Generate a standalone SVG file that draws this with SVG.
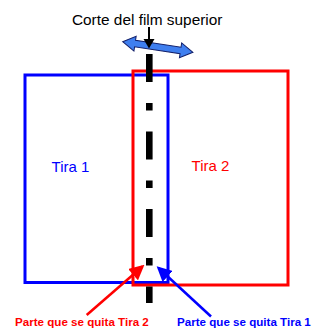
<svg xmlns="http://www.w3.org/2000/svg" width="323" height="329" viewBox="0 0 323 329">
<style>
.lbl{font-family:"Liberation Sans",Arial,sans-serif;}
.small{font-size:11.6px;font-weight:bold;}
</style>
<defs>
<marker id="hr" markerWidth="6" markerHeight="6" refX="5" refY="3" orient="auto" markerUnits="strokeWidth">
<path d="M0,0 L6,3 L0,6 Z" fill="#ff0000"/>
</marker>
<marker id="hb" markerWidth="6" markerHeight="6" refX="5" refY="3" orient="auto" markerUnits="strokeWidth">
<path d="M0,0 L6,3 L0,6 Z" fill="#0000ff"/>
</marker>
</defs>
<rect width="323" height="329" fill="#ffffff"/>
<g id="tira1">
<rect x="25" y="75" width="143" height="207.5" fill="none" stroke="#0000ff" stroke-width="3"/>
<text class="lbl" x="70.5" y="171.5" font-size="15" fill="#0000ff" text-anchor="middle">Tira 1</text>
</g>
<g id="tira2">
<rect x="133" y="71" width="155" height="214" fill="none" stroke="#ff0000" stroke-width="3"/>
<text class="lbl" x="210.5" y="171" font-size="15" fill="#ff0000" text-anchor="middle">Tira 2</text>
</g>
<g id="corte">
<line x1="149.3" y1="54" x2="149.3" y2="303" stroke="#000000" stroke-width="6.6" stroke-dasharray="28 21 7.5 21"/>
</g>
<g id="desplazamiento">
<polygon transform="translate(157.8,47) rotate(8.5)" points="-35.5,0 -23,-7.5 -23,-3.3 23,-3.3 23,-7.5 35.5,0 23,7.5 23,3.3 -23,3.3 -23,7.5" fill="#3f7fef" stroke="#13206a" stroke-width="1"/>
</g>
<g id="titulo">
<text class="lbl" x="147.2" y="25" font-size="15.4" fill="#000000" text-anchor="middle">Corte del film superior</text>
<line x1="149" y1="27" x2="149" y2="40" stroke="#000000" stroke-width="2"/>
<polygon points="143.5,39 154.5,39 149,48.5" fill="#000000"/>
</g>
<g id="connectors">
<line x1="86.7" y1="315" x2="142.5" y2="266.5" stroke="#ff0000" stroke-width="2.5" marker-end="url(#hr)"/>
<line x1="211" y1="316.5" x2="158.5" y2="268" stroke="#0000ff" stroke-width="2.5" marker-end="url(#hb)"/>
</g>
<g id="parte2">
<text class="lbl small" x="15" y="325.5" fill="#ff0000">Parte que se quita Tira 2</text>
</g>
<g id="parte1">
<text class="lbl small" x="177" y="325.5" fill="#0000ff">Parte que se quita Tira 1</text>
</g>
</svg>
